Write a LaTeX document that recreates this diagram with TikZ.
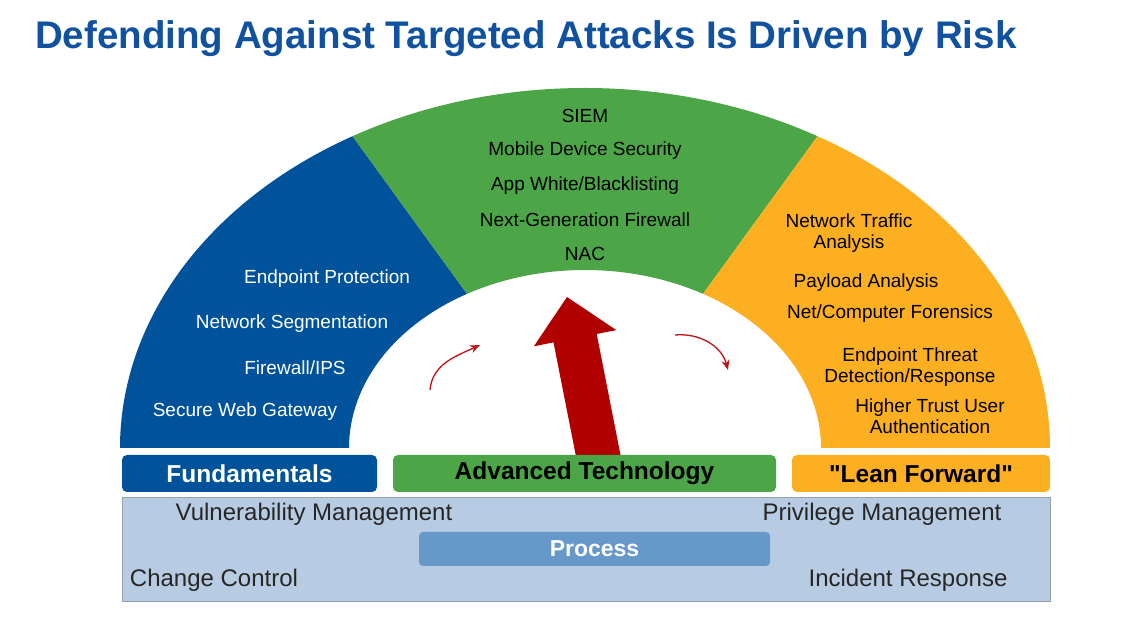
\documentclass[tikz,border=0pt]{standalone}
\usepackage{fontspec}
\setmainfont{Liberation Sans}
\usetikzlibrary{arrows.meta}
\newcommand\straightdq{\XeTeXglyph\XeTeXcharglyph34\relax}
\definecolor{fundblue}{RGB}{0,82,155}
\definecolor{advgreen}{RGB}{76,165,70}
\definecolor{leanorange}{RGB}{252,176,33}
\definecolor{arrowred}{RGB}{176,0,0}
\definecolor{thinred}{RGB}{190,20,20}
\definecolor{procbg}{RGB}{183,204,226}
\definecolor{procbox}{RGB}{102,152,201}
\definecolor{titleblue}{RGB}{16,82,160}
\definecolor{procline}{RGB}{150,160,170}
\begin{document}
\begin{tikzpicture}[x=1pt,y=1pt,
  arclabel/.style={font=\fontsize{19}{20.5}\selectfont, align=center, inner sep=0pt},
  whitelabel/.style={arclabel, text=white},
  blacklabel/.style={arclabel, text=black},
  catbox/.style={rounded corners=5pt, minimum height=37pt, inner sep=0pt,
    font=\fontsize{24.5}{26}\selectfont\bfseries},
  proclabel/.style={font=\fontsize{24}{26}\selectfont, inner sep=0pt, text=black!85},
  turnarrow/.style={thinred, line width=1.3pt, -{Stealth[length=10pt,width=8pt]}}
]
\useasboundingbox (0,0) rectangle (1142,617);
\fill[white] (0,0) rectangle (1142,617);

% title
\node[anchor=base west, inner sep=0pt, text=titleblue,
  font=\fontsize{38.5}{42}\selectfont\bfseries] (title) at (35,568)
  {Defending Against Targeted Attacks Is Driven by Risk};

% elliptical arc sectors
\begin{scope}[shift={(585,169)}]
  \fill[fundblue] (-465,0) arc[start angle=180,end angle=120,x radius=465pt,y radius=360pt]
    -- (-118,154.15) arc[start angle=120,end angle=180,x radius=236pt,y radius=178pt] -- cycle;
  \fill[advgreen] (-232.5,311.77) arc[start angle=120,end angle=60,x radius=465pt,y radius=360pt]
    -- (118,154.15) arc[start angle=60,end angle=120,x radius=236pt,y radius=178pt] -- cycle;
  \fill[leanorange] (232.5,311.77) arc[start angle=60,end angle=0,x radius=465pt,y radius=360pt]
    -- (236,0) arc[start angle=0,end angle=60,x radius=236pt,y radius=178pt] -- cycle;
\end{scope}

% blue labels
\node[whitelabel] (ep) at (327,338) {Endpoint Protection};
\node[whitelabel] (ns) at (292,293) {Network Segmentation};
\node[whitelabel] (fw) at (295,249) {Firewall/IPS};
\node[whitelabel] (swg) at (245,205) {Secure Web Gateway};

% green labels
\node[blacklabel] (siem) at (585,501) {SIEM};
\node[blacklabel] (mds) at (585,466) {Mobile Device Security};
\node[blacklabel] (awb) at (585,431) {App White/Blacklisting};
\node[blacklabel] (ngf) at (585,397) {Next-Generation Firewall};
\node[blacklabel] (nac) at (585,363) {NAC};

% orange labels
\node[blacklabel] (nta) at (849,384) {Network Traffic\\Analysis};
\node[blacklabel] (pa) at (866,334) {Payload Analysis};
\node[blacklabel] (ncf) at (890,303) {Net/Computer Forensics};
\node[blacklabel] (etd) at (910,250) {Endpoint Threat\\Detection/Response};
\node[blacklabel] (htu) at (930,201) {Higher Trust User\\Authentication};

% big arrow
\fill[arrowred] (567,320) -- (616.3,286.9) -- (596.7,283) -- (620.5,162)
  -- (575.7,162) -- (553.5,274.6) -- (533.9,270.7) -- cycle;

% turning arrows
\coordinate (la1) at (430,227);
\coordinate (la2) at (480,272);
\coordinate (ra1) at (675,282);
\coordinate (ra2) at (728,247);
\draw[turnarrow] (la1) to[out=85,in=205] (la2);
\draw[turnarrow] (ra1) to[out=5,in=105] (ra2);

% category boxes
\node[catbox, fill=fundblue, text=white, minimum width=255pt] (fund) at (249.5,143.5) {Fundamentals};
\node[catbox, fill=advgreen, text=black, minimum width=383pt] (adv) at (584.5,143.5) {Advanced Technology};
\node[catbox, fill=leanorange, text=black, minimum width=258pt] (lean) at (921,143.5) {\straightdq Lean Forward\straightdq};

% process area
\node[draw=procline, fill=procbg, minimum width=928pt, minimum height=104pt, inner sep=0pt] (procarea) at (586,68) {};
\node[proclabel] (vm) at (314,103) {Vulnerability Management};
\node[proclabel] (pm) at (882,103) {Privilege Management};
\node[proclabel] (cc) at (214,37) {Change Control};
\node[proclabel] (ir) at (908,37) {Incident Response};
\node[rounded corners=4pt, fill=procbox, minimum width=351pt, minimum height=34pt, inner sep=0pt,
  text=white, font=\fontsize{23}{25}\selectfont\bfseries] (proc) at (594.5,68) {Process};
\end{tikzpicture}
\end{document}
